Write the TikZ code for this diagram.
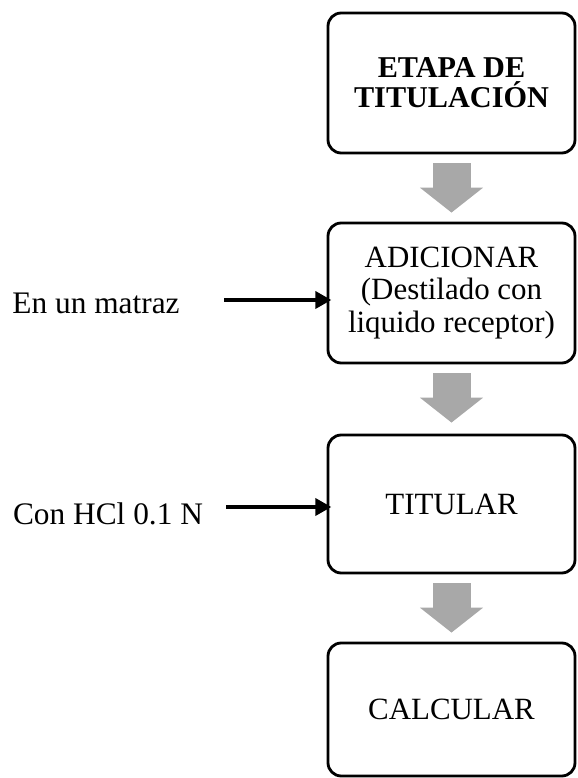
\documentclass[tikz,border=0pt]{standalone}
\usepackage{fontspec}
\setmainfont{Liberation Serif}
\definecolor{arrowgray}{RGB}{168, 168, 168}
\usepackage{tikz}
\usetikzlibrary{arrows.meta, positioning, calc}

\begin{document}
\begin{tikzpicture}[
  etapa/.style={draw, line width=2pt, rounded corners=0.33cm, minimum width=6.175cm, minimum height=3.5cm, align=center, font=\fontsize{22}{23.2}\selectfont, inner sep=4pt},
  nota/.style={align=center, font=\fontsize{22.3}{23}\selectfont, inner sep=0pt},
  flecha/.style={arrowgray, line width=0.95cm, -{Triangle[width=1.55cm, length=0.625cm]}},
  entrada/.style={line width=3.2pt, -{Triangle[width=0.42cm, length=0.4cm]}}
]
  \useasboundingbox (0,0) rectangle (14.425,19.45);

  % Steps
  \node[etapa, font=\fontsize{21.5}{21.3}\selectfont\bfseries] (b1) at (11.2875, 17.375) {ETAPA DE\\TITULACIÓN};
  \node[etapa] (b2) at (11.2875, 12.125) {ADICIONAR\\(Destilado con\\liquido receptor)};
  \node[etapa, minimum height=3.45cm] (b3) at (11.2875, 6.85) {TITULAR};
  \node[etapa, minimum height=3.325cm] (b4) at (11.2875, 1.7125) {CALCULAR};

  % Side notes
  \node[nota] (m1) at (2.4, 11.8625) {En un matraz};
  \node[nota] (m2) at (2.7, 6.6) {Con HCl 0.1 N};
  \coordinate (a1) at (5.6, 11.95);
  \coordinate (a2) at (5.65, 6.775);

  % Arrows
  \draw[flecha] ([yshift=-0.225cm]b1.south) -- ([yshift=0.225cm]b2.north);
  \draw[flecha] ([yshift=-0.225cm]b2.south) -- ([yshift=0.275cm]b3.north);
  \draw[flecha] ([yshift=-0.225cm]b3.south) -- ([yshift=0.225cm]b4.north);
  \draw[entrada] (a1) -- ($(a1 -| b2.west)+(0.12,0)$);
  \draw[entrada] (a2) -- ($(a2 -| b3.west)+(0.12,0)$);
\end{tikzpicture}
\end{document}
